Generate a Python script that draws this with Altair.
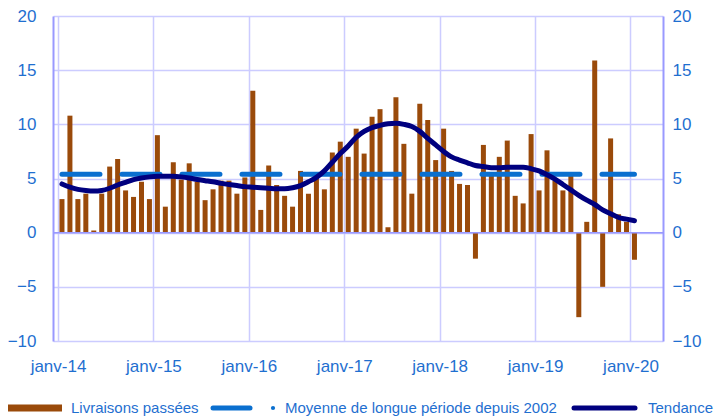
import altair as alt
import pandas as pd

# ---------------- data ----------------
tick_labels = ["janv-14", "janv-15", "janv-16", "janv-17", "janv-18", "janv-19", "janv-20"]

livraisons = [
    3.1, 10.8, 3.1, 3.6, 0.2, 3.6, 6.1, 6.8, 3.9, 3.3, 4.7, 3.1,      # 2014
    9.0, 2.4, 6.5, 4.9, 6.4, 4.7, 3.0, 4.0, 4.8, 4.8, 3.6, 5.1,       # 2015
    13.1, 2.1, 6.2, 4.4, 3.4, 2.4, 5.7, 3.6, 5.1, 4.0, 7.4, 8.4,      # 2016
    7.0, 9.6, 7.3, 10.7, 11.4, 0.5, 12.5, 8.2, 3.6, 11.9, 10.4, 6.7,  # 2017
    9.6, 5.7, 4.5, 4.4, -2.4, 8.1, 5.3, 7.0, 8.5, 3.4, 2.7, 9.1,      # 2018
    3.9, 7.6, 4.8, 3.9, 5.3, -7.8, 1.0, 15.9, -5.0, 8.7, 1.7, 1.0,    # 2019
    -2.5,                                                             # 2020
]

tendance = [
    4.5, 4.2, 4.0, 3.9, 3.85, 3.9, 4.1, 4.4, 4.65, 4.9, 5.05, 5.15,
    5.2, 5.2, 5.2, 5.15, 5.05, 4.9, 4.8, 4.7, 4.55, 4.45, 4.35, 4.25,
    4.2, 4.15, 4.1, 4.05, 4.05, 4.15, 4.35, 4.7, 5.1, 5.7, 6.5, 7.3,
    8.0, 8.8, 9.35, 9.7, 9.9, 10.05, 10.1, 10.0, 9.8, 9.35, 8.7, 8.1,
    7.5, 7.0, 6.7, 6.45, 6.2, 6.1, 6.0, 6.0, 6.05, 6.05, 6.05, 5.9,
    5.7, 5.35, 4.95, 4.45, 3.95, 3.45, 3.0, 2.6, 2.1, 1.75, 1.4, 1.25,
    1.1,
]

moyenne = 5.4

legend_names = ["Livraisons passées", "Moyenne de longue période depuis 2002", "Tendance"]

# ---------------- tables ----------------
pos = [i + 0.5 for i in range(len(livraisons))]
bars_df = pd.DataFrame({"pos": pos, "val": livraisons})
trend_df = pd.DataFrame({"pos": pos, "val": tendance})
avg_df = pd.DataFrame({"pos": [pos[0], pos[-1]], "val": [moyenne, moyenne]})
zero_df = pd.DataFrame({"pos": [pos[0]], "val": [0]})
one = pd.DataFrame({"a": [0]})

# ---------------- style ----------------
BROWN = "#9A4A0A"
AVG_BLUE = "#0A6FCF"
NAVY = "#00007F"
TXT = "#1F6FD0"
GRID = "#CCCCFF"
AXIS = "#9999FF"
FONT = "Liberation Sans, Arial, sans-serif"

x_scale = alt.Scale(domain=[0, 75.46], nice=False, zero=False)
y_scale = alt.Scale(domain=[-10, 20], nice=False, zero=False)
y_ticks = [-10, -5, 0, 5, 10, 15, 20]

label_expr = "[" + ",".join("'%s'" % t for t in tick_labels) + "][round(datum.value/12)]"

x_axis = alt.Axis(
    values=[12 * i for i in range(len(tick_labels))],
    labelExpr=label_expr, grid=True, gridColor=GRID, gridWidth=1.5,
    domain=False, ticks=False, labelFontSize=17, labelColor=TXT, labelFont=FONT,
    labelPadding=17, labelFlush=False, labelOverlap=False, title=None,
)
y_axis_left = alt.Axis(
    values=y_ticks, grid=True, gridColor=GRID, gridWidth=1.5,
    domain=True, domainColor=AXIS, domainWidth=2, ticks=False,
    labelFontSize=17, labelColor=TXT, labelFont=FONT, labelPadding=17, title=None,
)
y_axis_right = alt.Axis(
    orient="right", values=y_ticks, grid=False,
    domain=True, domainColor=AXIS, domainWidth=2, ticks=False,
    labelFontSize=17, labelColor=TXT, labelFont=FONT, labelPadding=9, title=None,
)

X = alt.X("pos:Q", scale=x_scale, axis=x_axis)
Y = alt.Y("val:Q", scale=y_scale, axis=y_axis_left)

bars = alt.Chart(bars_df).mark_bar(size=5, color=BROWN).encode(
    x=X, y=Y, y2=alt.datum(0),
)

zero_rule = alt.Chart(zero_df).mark_rule(color=AXIS, strokeWidth=1.5).encode(y=Y)

avg_line = alt.Chart(avg_df).mark_line(
    color=AVG_BLUE, strokeWidth=5, strokeDash=[38, 22], strokeCap="round"
).encode(x=X, y=Y)

trend_line = alt.Chart(trend_df).mark_line(
    color=NAVY, strokeWidth=5, strokeCap="round", strokeJoin="round", interpolate="monotone"
).encode(x=X, y=Y)

inner = alt.layer(bars, zero_rule, avg_line, trend_line)

right_axis = alt.Chart(bars_df).mark_point(opacity=0).encode(
    x=X, y=alt.Y("val:Q", scale=y_scale, axis=y_axis_right)
)

# ---------------- legend (manual) ----------------
LY = 392
DX = -6
leg_rect = alt.Chart(one).mark_rect(color=BROWN).encode(
    x=alt.value(-47.5 + DX + 2), x2=alt.value(15 + DX), y=alt.value(LY - 3.5), y2=alt.value(LY + 3.5)
)
leg_avg = alt.Chart(one).mark_rule(color=AVG_BLUE, strokeWidth=5, strokeCap="round").encode(
    x=alt.value(166 + DX), x2=alt.value(203 + DX), y=alt.value(LY)
)
leg_dot = alt.Chart(one).mark_point(filled=True, color=AVG_BLUE, size=18, opacity=1).encode(
    x=alt.value(226 + DX), y=alt.value(LY)
)
leg_trend = alt.Chart(one).mark_rule(color=NAVY, strokeWidth=5, strokeCap="round").encode(
    x=alt.value(527 + DX), x2=alt.value(588 + DX), y=alt.value(LY)
)
txt_kw = dict(align="left", baseline="middle", fontSize=15, font=FONT, color=TXT)
leg_t1 = alt.Chart(one).mark_text(text=legend_names[0], **txt_kw).encode(x=alt.value(24 + DX), y=alt.value(LY))
leg_t2 = alt.Chart(one).mark_text(text=legend_names[1], **txt_kw).encode(x=alt.value(238 + DX), y=alt.value(LY))
leg_t3 = alt.Chart(one).mark_text(text=legend_names[2], **txt_kw).encode(x=alt.value(601 + DX), y=alt.value(LY))

chart = alt.layer(
    inner, right_axis, leg_rect, leg_avg, leg_dot, leg_trend, leg_t1, leg_t2, leg_t3
).resolve_scale(y="independent").properties(
    width=610, height=325,
    autosize=alt.AutoSizeParams(type="none"),
    padding={"left": 45, "top": 8, "right": 52, "bottom": 77},
).configure_view(stroke=None)

chart.save("out.html", embed_options={"renderer": "svg", "actions": False})
